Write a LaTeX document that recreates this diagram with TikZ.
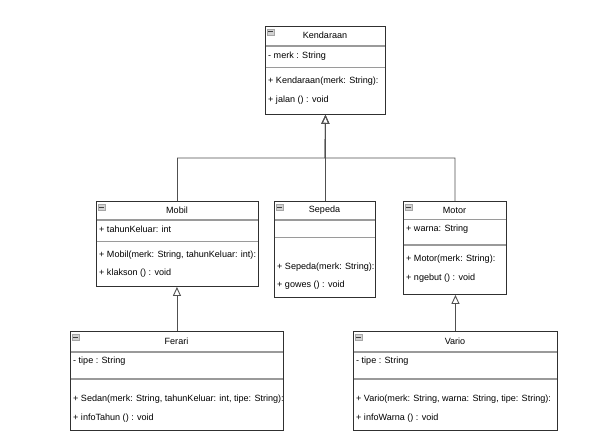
\documentclass[tikz,border=0pt]{standalone}
\usepackage{fontspec}
\setmainfont{Liberation Sans}
\usetikzlibrary{arrows.meta}
\definecolor{boxline}{HTML}{303030}
\definecolor{sepline}{HTML}{9A9A9A}
\definecolor{conline}{HTML}{505050}
\tikzset{
  classbox/.style={draw=boxline, line width=0.9pt, anchor=north west, inner sep=0pt, fill=white},
  sepln/.style={draw=sepline, line width=1.3pt},
  ttl/.style={anchor=center, inner sep=0pt, font=\fontsize{9.05}{11}\selectfont},
  mem/.style={anchor=west, inner sep=0pt, font=\fontsize{9.05}{11}\selectfont},
  inh/.style={draw=conline, line width=0.9pt, -{Triangle[open, length=9pt, width=8pt]}},
  minus/.pic={\draw[fill=gray!35, draw=gray!70, line width=0.5pt] (0,0) rectangle (7,6);
              \draw[black!75, line width=1pt] (1.2,3) -- (5.8,3);}
}
\begin{document}
\begin{tikzpicture}[x=1pt, y=-1pt]
\useasboundingbox[fill=white] (0,0) rectangle (616,441);

% Kendaraan
\node[classbox, minimum width=120pt, minimum height=88pt] (kend) at (265,26) {};
\draw[sepln] (265.5,46) -- (384.5,46);
\draw[sepln] (265.5,67.5) -- (384.5,67.5);
\pic at (267,29) {minus};
\node[ttl] (kendT) at (325,35.5) {Kendaraan};
\node[mem] (kendA) at (268,56) {- merk : String};
\node[mem] (kendM1) at (268,81.5) {+ Kendaraan(merk: String):};
\node[mem] (kendM2) at (268,100.5) {+ jalan () : void};

% Mobil
\node[classbox, minimum width=162pt, minimum height=85pt] (mobil) at (96,201) {};
\draw[sepln] (96.5,220) -- (257.5,220);
\draw[sepln] (96.5,241.5) -- (257.5,241.5);
\pic at (98,204) {minus};
\node[ttl] (mobilT) at (177,210.5) {Mobil};
\node[mem] (mobilA) at (99,229.5) {+ tahunKeluar: int};
\node[mem] (mobilM1) at (99,255) {+ Mobil(merk: String, tahunKeluar: int):};
\node[mem] (mobilM2) at (99,273.5) {+ klakson () : void};

% Sepeda
\node[classbox, minimum width=101pt, minimum height=96pt] (sepeda) at (274,201) {};
\draw[sepln] (274.5,220) -- (374.5,220);
\draw[sepln] (274.5,237.5) -- (374.5,237.5);
\pic at (276,204) {minus};
\node[ttl] (sepedaT) at (324.5,210.5) {Sepeda};
\node[mem] (sepedaM1) at (277,267) {+ Sepeda(merk: String):};
\node[mem] (sepedaM2) at (277,285.5) {+ gowes () : void};

% Motor
\node[classbox, minimum width=103pt, minimum height=93pt] (motor) at (403,201) {};
\draw[sepln] (403.5,219.5) -- (505.5,219.5);
\draw[sepln] (403.5,245) -- (505.5,245);
\pic at (405,204) {minus};
\node[ttl] (motorT) at (454.5,210.5) {Motor};
\node[mem] (motorA) at (406,229) {+ warna: String};
\node[mem] (motorM1) at (406,259.5) {+ Motor(merk: String):};
\node[mem] (motorM2) at (406,278) {+ ngebut () : void};

% Ferari
\node[classbox, minimum width=213pt, minimum height=99pt] (ferari) at (70,331) {};
\draw[sepln] (70.5,352) -- (282.5,352);
\draw[sepln] (70.5,379) -- (282.5,379);
\pic at (72,334) {minus};
\node[ttl] (ferariT) at (176.5,341.5) {Ferari};
\node[mem] (ferariA) at (73,361.5) {- tipe : String};
\node[mem] (ferariM1) at (73,399.5) {+ Sedan(merk: String, tahunKeluar: int, tipe: String):};
\node[mem] (ferariM2) at (73,418) {+ infoTahun () : void};

% Vario
\node[classbox, minimum width=204pt, minimum height=99pt] (vario) at (353,331) {};
\draw[sepln] (353.5,352) -- (556.5,352);
\draw[sepln] (353.5,379) -- (556.5,379);
\pic at (355,334) {minus};
\node[ttl] (varioT) at (455,341.5) {Vario};
\node[mem] (varioA) at (356,361.5) {- tipe : String};
\node[mem] (varioM1) at (356,399.5) {+ Vario(merk: String, warna: String, tipe: String):};
\node[mem] (varioM2) at (356,418) {+ infoWarna () : void};

% connectors
\coordinate (bus) at (325,158);
\draw[inh] (mobil.north) |- (bus) -- (kend.south);
\draw[inh] (motor.north) |- (bus) -- (kend.south);
\draw[inh] (sepeda.north -| kend.south) -- (kend.south);
\draw[inh] (ferari.north) -- (ferari.north |- mobil.south);
\draw[inh] (vario.north) -- (vario.north |- motor.south);
\end{tikzpicture}
\end{document}
